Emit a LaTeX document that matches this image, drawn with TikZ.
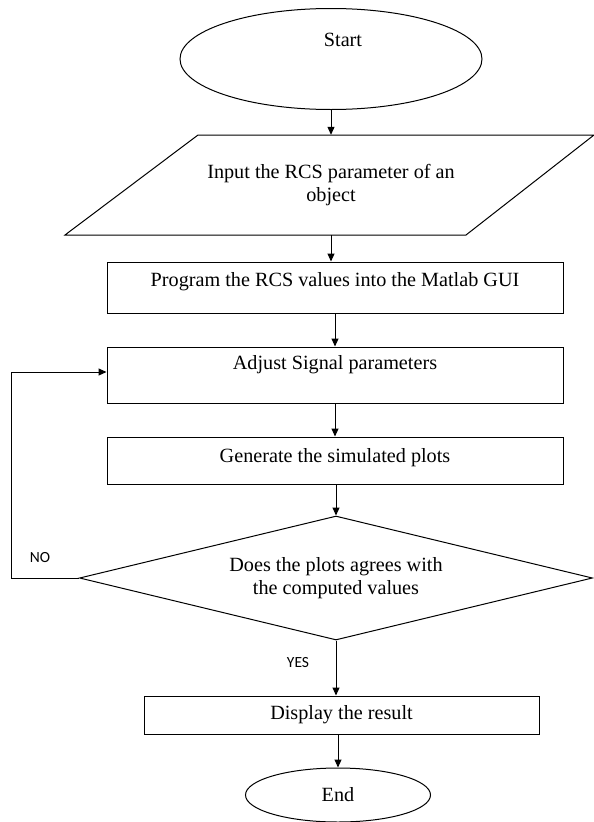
\documentclass[tikz,border=0pt]{standalone}
\usepackage{fontspec}
\setmainfont{Liberation Serif}
\newfontfamily\labelfont{Carlito}
\usetikzlibrary{shapes.geometric,arrows.meta}
\begin{document}
\begin{tikzpicture}[x=1pt,y=-1pt,
  every node/.style={font=\fontsize{20.2}{23}\selectfont},
  procbox/.style={draw, rectangle, line width=1pt, inner sep=0pt, minimum width=456pt, text height=14pt},
  arr/.style={-{Triangle[length=8pt,width=7pt]}, line width=1pt},
  lbl/.style={font=\labelfont\fontsize{15.5}{18}\selectfont, inner sep=0pt}]
\useasboundingbox (0,0) rectangle (594,822);
% start
\node[draw, ellipse, line width=1pt, inner sep=0pt, minimum width=302pt, minimum height=101pt,
      label={[xshift=12pt,yshift=19pt]center:Start}] (start) at (331,59) {};
% input parallelogram
\draw[line width=1pt] (198,135) -- (594,135) -- (466,235) -- (65,235) -- cycle;
\node[rectangle, inner sep=0pt, minimum height=100pt, align=center] (input) at (331,185)
  {Input the RCS parameter of an\\object};
% process boxes
\node[procbox, minimum height=51pt, text depth=15.6pt] (prog) at (335,287.5)
  {Program the RCS values into the Matlab GUI};
\node[procbox, minimum height=56pt, text depth=24.6pt] (adj) at (335,375)
  {Adjust Signal parameters};
\node[procbox, minimum height=47pt, text depth=10.6pt] (gen) at (335,460.5)
  {Generate the simulated plots};
% decision
\node[draw, diamond, aspect=4, line width=1pt, inner sep=0pt, minimum width=513pt, minimum height=124pt,
      align=center] (dec) at (336,578)
  {Does the plots agrees with\\the computed values};
% display
\node[procbox, minimum width=395pt, minimum height=38pt, text depth=4.6pt] (disp) at (341.5,715)
  {Display the result};
% end
\node[draw, ellipse, line width=1pt, inner sep=0pt, minimum width=185pt, minimum height=54pt] (end) at (338,795) {End};
% labels
\node[lbl] (no) at (40,558) {NO};
\node[lbl] (yes) at (298,663) {YES};
% connectors
\draw[arr] (start.south) -- (start.south |- input.north);
\draw[arr] (input.south) -- (input.south |- prog.north);
\draw[arr] (prog.south) -- (adj.north);
\draw[arr] (adj.south) -- (gen.north);
\draw[arr] (dec.north |- gen.south) -- (dec.north);
\draw[arr] (dec.south) -- (dec.south |- disp.north);
\draw[arr] (end.north |- disp.south) -- (end.north);
\draw[arr] (dec.west) -- ++(-68,0) |- ([yshift=3pt]adj.west);
\end{tikzpicture}
\end{document}
